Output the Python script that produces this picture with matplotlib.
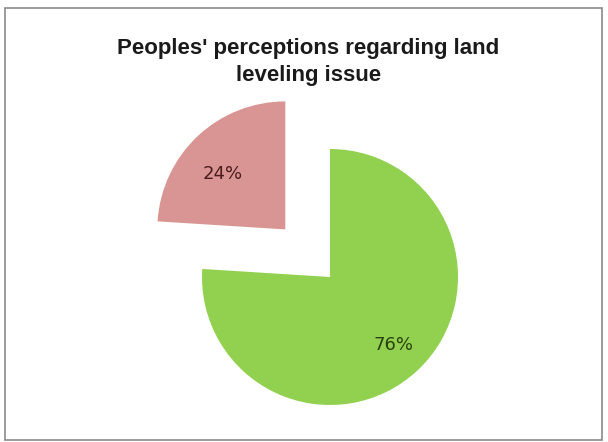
import matplotlib.pyplot as plt
from matplotlib.patches import Rectangle

title = "Peoples' perceptions regarding land\nleveling issue"
labels = ["Yes", "No"]
shares = [76, 24]
colors = ["#92d050", "#d99594"]
text_colors = ["#2a4210", "#4a1c1c"]

fig = plt.figure(figsize=(6.08, 4.42), dpi=100)
fig.patch.set_facecolor("white")
ax = fig.add_axes([0, 0, 1, 1])

# pie drawn in pixel-like coordinates so it sits where the reference has it
R = 128
wedges, texts, autotexts = ax.pie(
    shares, colors=colors, startangle=90, counterclock=False,
    center=(330, 165), radius=R, explode=[0, 0.51 * R],
    autopct="%d%%", pctdistance=0.73, textprops={"fontsize": 13},
    wedgeprops={"linewidth": 0},
)
for t, c in zip(autotexts, text_colors):
    t.set_color(c)
    t.set_family("DejaVu Sans")

# small slice label sits a little lower in the original
x0, y0 = autotexts[1].get_position()
autotexts[1].set_position((x0 + 1, y0 - 13))

ax.set_xlim(0, 608)
ax.set_ylim(0, 442)
ax.set_aspect("equal")
ax.axis("off")

fig.text(0.507, 1 - 62 / 442, title, ha="center", va="center",
         fontsize=16, fontweight="bold", family="Liberation Sans",
         color="#1a1a1a", linespacing=1.35)

fig.patches.append(Rectangle((5 / 608, 2 / 442), 597 / 608, 432 / 442,
                             transform=fig.transFigure, fill=False,
                             edgecolor="#8a8a8a", linewidth=1.2))

fig.savefig("out.png", dpi=100)
